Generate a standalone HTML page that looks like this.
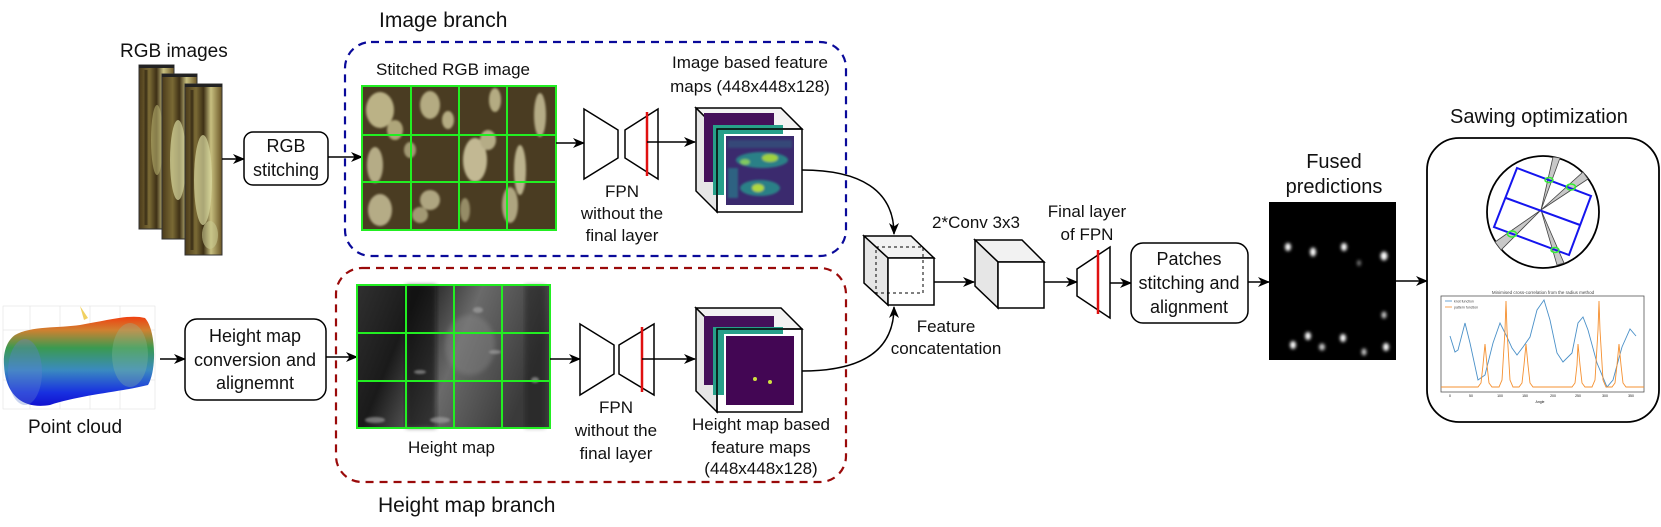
<!DOCTYPE html>
<html><head><meta charset="utf-8"><style>
html,body{margin:0;padding:0;background:#fff;}
svg{display:block;}
text{font-family:"Liberation Sans",Arial,sans-serif;fill:#111;}
</style></head><body>
<svg width="1661" height="527" viewBox="0 0 1661 527" xmlns="http://www.w3.org/2000/svg">
<defs>
<marker id="ar" markerWidth="12" markerHeight="12" refX="11" refY="6" orient="auto" markerUnits="userSpaceOnUse">
<path d="M0,1 L12,6 L0,11 L3.5,6 z" fill="#000"/>
</marker>
<linearGradient id="pc" x1="0" y1="0" x2="0" y2="1">
<stop offset="0" stop-color="#f04010"/><stop offset="0.15" stop-color="#d08030"/>
<stop offset="0.35" stop-color="#3a9a50"/><stop offset="0.6" stop-color="#3a8ac0"/>
<stop offset="0.85" stop-color="#1830e0"/><stop offset="1" stop-color="#1010d0"/>
</linearGradient>
<linearGradient id="strip" x1="0" y1="0" x2="1" y2="0">
<stop offset="0" stop-color="#4a3a1a"/><stop offset="0.3" stop-color="#7a6a35"/>
<stop offset="0.5" stop-color="#3e3015"/><stop offset="0.7" stop-color="#c8c080"/>
<stop offset="1" stop-color="#6a5525"/>
</linearGradient>
<linearGradient id="hm" x1="0" y1="0" x2="1" y2="0.3">
<stop offset="0" stop-color="#303030"/><stop offset="0.3" stop-color="#1a1a1a"/>
<stop offset="0.6" stop-color="#6a6a6a"/><stop offset="1" stop-color="#3a3a3a"/>
</linearGradient>
<filter id="bl" x="-50%" y="-50%" width="200%" height="200%"><feGaussianBlur stdDeviation="1.6"/></filter>
<filter id="bl2"><feGaussianBlur stdDeviation="2.5"/></filter>
<filter id="bl3" x="-50%" y="-50%" width="200%" height="200%"><feGaussianBlur stdDeviation="1"/></filter>
</defs>

<text x="379" y="27" font-size="21">Image branch</text>
<text x="378" y="512" font-size="21">Height map branch</text>
<text x="120" y="57" font-size="19">RGB images</text>
<text x="1450" y="123" font-size="20">Sawing optimization</text>

<rect x="345" y="42" width="501" height="214" rx="26" fill="none" stroke="#0a0a9a" stroke-width="2.2" stroke-dasharray="8,6"/>
<rect x="336" y="268" width="510" height="214" rx="26" fill="none" stroke="#9a0a0a" stroke-width="2.2" stroke-dasharray="8,6"/>

<g>
<rect x="139" y="65" width="35" height="164" fill="url(#strip)" stroke="#333" stroke-width="1"/>
<rect x="139" y="65" width="35" height="3" fill="#222"/>
<ellipse cx="157" cy="140" rx="6" ry="35" fill="#b8b070" opacity="0.6"/>
<rect x="162" y="74" width="35" height="165" fill="url(#strip)" stroke="#333" stroke-width="1"/>
<rect x="162" y="74" width="35" height="3" fill="#222"/>
<ellipse cx="178" cy="160" rx="8" ry="40" fill="#d8d8a0" opacity="0.7"/>
<rect x="185" y="84" width="37" height="171" fill="url(#strip)" stroke="#333" stroke-width="1"/>
<rect x="185" y="84" width="37" height="3" fill="#222"/>
<ellipse cx="203" cy="180" rx="9" ry="45" fill="#d8d8a0" opacity="0.7"/>
<ellipse cx="210" cy="235" rx="8" ry="14" fill="#c8c890" opacity="0.6"/>
<line x1="192" y1="90" x2="192" y2="250" stroke="#2a2010" stroke-width="3" opacity="0.6"/>
<line x1="146" y1="70" x2="146" y2="225" stroke="#2a2010" stroke-width="3" opacity="0.6"/>
</g>

<line x1="222" y1="159" x2="244" y2="159" stroke="#000" stroke-width="1.5" marker-end="url(#ar)"/>
<rect x="244" y="132" width="84" height="53" rx="9" fill="#fff" stroke="#000" stroke-width="1.5"/>
<text x="286" y="152" font-size="18" text-anchor="middle">RGB</text>
<text x="286" y="176" font-size="18" text-anchor="middle">stitching</text>
<line x1="328" y1="157" x2="362" y2="157" stroke="#000" stroke-width="1.5" marker-end="url(#ar)"/>

<text x="376" y="75" font-size="17">Stitched RGB image</text>
<rect x="362" y="86" width="194" height="144" fill="#4a3c22"/>
<g opacity="0.8" filter="url(#bl3)">
<ellipse cx="380" cy="110" rx="14" ry="18" fill="#d8d0a0"/>
<ellipse cx="395" cy="130" rx="8" ry="10" fill="#c8c090"/>
<ellipse cx="430" cy="105" rx="10" ry="14" fill="#cfc79a"/>
<ellipse cx="448" cy="120" rx="6" ry="9" fill="#cfc79a"/>
<ellipse cx="495" cy="100" rx="6" ry="12" fill="#cfc79a"/>
<ellipse cx="540" cy="115" rx="6" ry="22" fill="#d0c8a0"/>
<ellipse cx="375" cy="165" rx="8" ry="18" fill="#d0c8a0"/>
<ellipse cx="475" cy="160" rx="12" ry="22" fill="#e0d8b0"/>
<ellipse cx="488" cy="140" rx="8" ry="10" fill="#d0c8a0"/>
<ellipse cx="520" cy="170" rx="6" ry="25" fill="#d8d0a8"/>
<ellipse cx="380" cy="210" rx="12" ry="16" fill="#d0c8a0"/>
<ellipse cx="430" cy="200" rx="10" ry="10" fill="#c8c098"/>
<ellipse cx="420" cy="215" rx="8" ry="8" fill="#b8b088"/>
<ellipse cx="510" cy="205" rx="8" ry="18" fill="#c8c098"/>
<ellipse cx="410" cy="150" rx="6" ry="8" fill="#b8b088"/>
<ellipse cx="465" cy="210" rx="5" ry="12" fill="#a8a078"/>
</g>
<g stroke="#22ee22" stroke-width="2" fill="none">
<rect x="362" y="86" width="194" height="144"/>
<line x1="411" y1="86" x2="411" y2="230"/><line x1="459" y1="86" x2="459" y2="230"/><line x1="507" y1="86" x2="507" y2="230"/>
<line x1="362" y1="135" x2="556" y2="135"/><line x1="362" y1="182" x2="556" y2="182"/>
</g>

<line x1="556" y1="143" x2="584" y2="143" stroke="#000" stroke-width="1.5" marker-end="url(#ar)"/>
<polygon points="584,109 618,130 618,158 584,179" fill="#fff" stroke="#000" stroke-width="1.5"/>
<polygon points="625,130 658,109 658,179 625,158" fill="#fff" stroke="#000" stroke-width="1.5"/>
<line x1="647" y1="112" x2="647" y2="176" stroke="#e01010" stroke-width="2.5"/>
<line x1="647" y1="142" x2="695" y2="142" stroke="#000" stroke-width="1.5" marker-end="url(#ar)"/>
<text font-size="17" text-anchor="middle"><tspan x="622" y="197">FPN</tspan><tspan x="622" y="219">without the</tspan><tspan x="622" y="241">final layer</tspan></text>
<text font-size="17" text-anchor="middle"><tspan x="750" y="68">Image based feature</tspan><tspan x="750" y="92">maps (448x448x128)</tspan></text>

<polygon points="696,108 781,108 802,129 717,129" fill="#f2f2f2" stroke="#000" stroke-width="1.5"/>
<polygon points="696,108 717,129 717,212 696,191" fill="#e6e6e6" stroke="#000" stroke-width="1.5"/>
<rect x="704" y="113" width="70" height="69" fill="#44105a"/>
<rect x="713" y="125" width="70" height="70" fill="#27a08a"/>
<rect x="724" y="134" width="72" height="73" fill="#fff"/>
<rect x="726" y="136" width="68" height="69" fill="#3b2a6e"/>
<g filter="url(#bl3)">
<rect x="728" y="140" width="64" height="8" fill="#35507a" opacity="0.8"/>
<ellipse cx="762" cy="160" rx="26" ry="8" fill="#2a8a8a" opacity="0.9"/>
<ellipse cx="770" cy="158" rx="8" ry="4" fill="#a0d040"/>
<ellipse cx="745" cy="162" rx="5" ry="3" fill="#80c860"/>
<ellipse cx="760" cy="188" rx="20" ry="8" fill="#2a8a8a" opacity="0.9"/>
<ellipse cx="758" cy="188" rx="6" ry="4" fill="#b0d840"/>
<rect x="728" y="168" width="10" height="30" fill="#2a7a8a" opacity="0.7"/>
</g>
<rect x="717" y="129" width="85" height="83" fill="none" stroke="#000" stroke-width="1.5"/>

<polygon points="696,308 781,308 802,329 717,329" fill="#f2f2f2" stroke="#000" stroke-width="1.5"/>
<polygon points="696,308 717,329 717,412 696,391" fill="#e6e6e6" stroke="#000" stroke-width="1.5"/>
<rect x="704" y="316" width="70" height="69" fill="#44105a"/>
<rect x="713" y="327" width="70" height="68" fill="#27a08a"/>
<rect x="724" y="334" width="72" height="73" fill="#fff"/>
<rect x="726" y="336" width="68" height="69" fill="#430654"/>
<circle cx="755" cy="379" r="2" fill="#d0e040"/><circle cx="770" cy="382" r="2" fill="#d0e040"/>
<rect x="717" y="329" width="85" height="83" fill="none" stroke="#000" stroke-width="1.5"/>

<path d="M802,170 C860,170 894,190 894,234" fill="none" stroke="#000" stroke-width="1.5" marker-end="url(#ar)"/>
<path d="M802,371 C870,371 894,345 894,307" fill="none" stroke="#000" stroke-width="1.5" marker-end="url(#ar)"/>

<polygon points="864,236 911,236 934,258 888,258" fill="#f2f2f2" stroke="#000" stroke-width="1.5"/>
<polygon points="864,236 888,258 888,305 864,283" fill="#e6e6e6" stroke="#000" stroke-width="1.5"/>
<rect x="888" y="258" width="46" height="47" fill="#fff" stroke="#000" stroke-width="1.5"/>
<rect x="876" y="247" width="47" height="46" fill="none" stroke="#000" stroke-width="1" stroke-dasharray="3,3"/>
<text font-size="17" text-anchor="middle"><tspan x="946" y="332">Feature</tspan><tspan x="946" y="354">concatentation</tspan></text>
<line x1="934" y1="282" x2="974" y2="282" stroke="#000" stroke-width="1.5" marker-end="url(#ar)"/>

<text x="976" y="228" font-size="17" text-anchor="middle">2*Conv 3x3</text>
<polygon points="975,240 1022,240 1044,262 998,262" fill="#f2f2f2" stroke="#000" stroke-width="1.5"/>
<polygon points="975,240 998,262 998,308 975,286" fill="#e6e6e6" stroke="#000" stroke-width="1.5"/>
<rect x="998" y="262" width="46" height="46" fill="#fff" stroke="#000" stroke-width="1.5"/>
<line x1="1044" y1="282" x2="1077" y2="282" stroke="#000" stroke-width="1.5" marker-end="url(#ar)"/>

<text font-size="17" text-anchor="middle"><tspan x="1087" y="217">Final layer</tspan><tspan x="1087" y="240">of FPN</tspan></text>
<polygon points="1077,269 1110,247 1110,318 1077,296" fill="#fff" stroke="#000" stroke-width="1.5"/>
<line x1="1098" y1="250" x2="1098" y2="314" stroke="#e01010" stroke-width="2.5"/>
<line x1="1110" y1="283" x2="1131" y2="283" stroke="#000" stroke-width="1.5" marker-end="url(#ar)"/>

<rect x="1131" y="243" width="117" height="80" rx="12" fill="#fff" stroke="#000" stroke-width="1.5"/>
<text font-size="18" text-anchor="middle"><tspan x="1189" y="265">Patches</tspan><tspan x="1189" y="289">stitching and</tspan><tspan x="1189" y="313">alignment</tspan></text>
<line x1="1248" y1="282" x2="1269" y2="282" stroke="#000" stroke-width="1.5" marker-end="url(#ar)"/>

<text font-size="20" text-anchor="middle"><tspan x="1334" y="168">Fused</tspan><tspan x="1334" y="193">predictions</tspan></text>
<rect x="1269" y="202" width="127" height="158" fill="#000"/>
<g fill="#fff" filter="url(#bl)">
<ellipse cx="1288" cy="247" rx="3" ry="4"/><ellipse cx="1313" cy="252" rx="3" ry="4.5"/>
<ellipse cx="1344" cy="247" rx="3" ry="4"/><ellipse cx="1384" cy="256" rx="3.5" ry="4.5"/>
<ellipse cx="1359" cy="263" rx="2" ry="3" opacity="0.5"/><ellipse cx="1384" cy="315" rx="2.5" ry="3.5" opacity="0.8"/>
<ellipse cx="1308" cy="336" rx="3" ry="4"/><ellipse cx="1293" cy="345" rx="3" ry="4"/>
<ellipse cx="1322" cy="347" rx="3" ry="3.5" opacity="0.8"/><ellipse cx="1343" cy="338" rx="3" ry="4"/>
<ellipse cx="1364" cy="352" rx="2.5" ry="3.5" opacity="0.8"/><ellipse cx="1386" cy="347" rx="3" ry="4"/>
</g>
<line x1="1396" y1="281" x2="1427" y2="281" stroke="#000" stroke-width="1.5" marker-end="url(#ar)"/>

<rect x="1427" y="138" width="232" height="284" rx="32" fill="#fff" stroke="#000" stroke-width="1.8"/>
<circle cx="1543" cy="212" r="56" fill="#fff" stroke="#000" stroke-width="1.8"/>
<g fill="#c8c8c8" stroke="#444" stroke-width="0.8">
<polygon points="1541,210 1553,157 1560,158"/>
<polygon points="1541,210 1583,172 1588,179"/>
<polygon points="1541,210 1495,242 1501,250"/>
<polygon points="1541,210 1557,265 1564,263"/>
</g>
<g stroke="#1515ee" stroke-width="2" fill="none">
<polygon points="1517,168 1591,196 1569,255 1494,227"/>
<line x1="1506" y1="198" x2="1580" y2="225"/>
</g>
<g fill="none" stroke="#33ee33" stroke-width="1.5">
<ellipse cx="1549" cy="180" rx="4" ry="2.5"/><ellipse cx="1571" cy="187" rx="4.5" ry="3"/>
<ellipse cx="1512" cy="234" rx="4.5" ry="3"/><ellipse cx="1555" cy="250" rx="4" ry="2.5"/>
</g>

<text x="1543" y="294" font-size="4.5" text-anchor="middle" style="fill:#444">Minimised cross-correlation from the radius method</text>
<rect x="1441" y="296" width="203" height="96" fill="#fff" stroke="#555" stroke-width="0.8"/>
<line x1="1445" y1="301" x2="1452" y2="301" stroke="#4a90c8" stroke-width="0.8"/>
<line x1="1445" y1="307" x2="1452" y2="307" stroke="#f59030" stroke-width="0.8"/>
<text x="1454" y="302.5" font-size="3.5" style="fill:#444">knot function</text>
<text x="1454" y="308.5" font-size="3.5" style="fill:#444">pattern function</text>
<polyline fill="none" stroke="#4a90c8" stroke-width="0.9" points="1450,336 1455,352 1458,350 1465,323 1470,343 1478,380 1485,375 1493,343 1500,323 1507,337 1512,348 1517,355 1523,347 1530,337 1537,310 1544,300 1550,320 1557,353 1563,362 1572,353 1578,323 1583,317 1588,330 1597,363 1607,387 1613,380 1622,347 1630,329 1636,336"/>
<polyline fill="none" stroke="#f59030" stroke-width="0.9" points="1441,387 1478,387 1481,383 1483,365 1485,344 1487,365 1489,383 1492,387 1499,387 1502,380 1505,330 1506,301 1507,330 1510,380 1513,387 1519,387 1522,383 1524,365 1526,344 1528,365 1530,383 1533,387 1572,387 1575,383 1577,365 1578,344 1580,365 1582,383 1585,387 1592,387 1595,380 1598,330 1599,301 1600,330 1603,380 1606,387 1612,387 1615,383 1617,365 1619,344 1621,365 1623,383 1626,387 1644,387"/>
<g font-size="3.5" style="fill:#444" text-anchor="middle">
<text x="1450" y="397">0</text><text x="1471" y="397">50</text><text x="1500" y="397">100</text><text x="1525" y="397">150</text><text x="1553" y="397">200</text><text x="1578" y="397">250</text><text x="1605" y="397">300</text><text x="1631" y="397">350</text>
<text x="1540" y="403">Angle</text>
</g>

<g stroke="#ddd" stroke-width="0.5" fill="none">
<rect x="3" y="306" width="152" height="103"/>
<line x1="30" y1="306" x2="30" y2="409"/><line x1="60" y1="306" x2="60" y2="409"/><line x1="90" y1="306" x2="90" y2="409"/><line x1="120" y1="306" x2="120" y2="409"/>
<line x1="3" y1="330" x2="155" y2="330"/><line x1="3" y1="380" x2="155" y2="380"/>
</g>
<path d="M80,306 L88,318 L84,320 Z" fill="#f0d060"/>
<path d="M15,335 C30,326 60,328 80,325 C110,320 130,314 145,318 C156,330 157,370 148,385 C120,392 80,395 50,405 C20,410 5,392 4,365 C3,350 8,340 15,335 Z" fill="url(#pc)"/>
<ellipse cx="25" cy="372" rx="17" ry="33" fill="#6080d0" opacity="0.35"/>
<ellipse cx="130" cy="355" rx="18" ry="32" fill="#90c0a0" opacity="0.3"/>
<text x="28" y="433" font-size="19">Point cloud</text>

<line x1="160" y1="359" x2="185" y2="359" stroke="#000" stroke-width="1.5" marker-end="url(#ar)"/>
<rect x="185" y="319" width="141" height="81" rx="12" fill="#fff" stroke="#000" stroke-width="1.5"/>
<text font-size="18" text-anchor="middle"><tspan x="255" y="342">Height map</tspan><tspan x="255" y="366">conversion and</tspan><tspan x="255" y="389">alignemnt</tspan></text>
<line x1="326" y1="357" x2="357" y2="357" stroke="#000" stroke-width="1.5" marker-end="url(#ar)"/>

<rect x="357" y="285" width="193" height="143" fill="url(#hm)"/>
<rect x="406" y="285" width="30" height="143" fill="#0c0c0c" opacity="0.6" filter="url(#bl2)"/>
<ellipse cx="470" cy="345" rx="25" ry="30" fill="#8a8a8a" opacity="0.4" filter="url(#bl2)"/>
<rect x="525" y="285" width="20" height="143" fill="#151515" opacity="0.4" filter="url(#bl2)"/>
<g fill="#aaa" opacity="0.6" filter="url(#bl3)">
<ellipse cx="478" cy="310" rx="5" ry="3"/><ellipse cx="535" cy="380" rx="4" ry="3"/>
<ellipse cx="420" cy="372" rx="6" ry="2"/><ellipse cx="495" cy="352" rx="6" ry="2"/>
<ellipse cx="375" cy="420" rx="10" ry="3"/><ellipse cx="440" cy="420" rx="10" ry="3"/>
</g>
<g stroke="#22ee22" stroke-width="2" fill="none">
<rect x="357" y="285" width="193" height="143"/>
<line x1="406" y1="285" x2="406" y2="428"/><line x1="454" y1="285" x2="454" y2="428"/><line x1="502" y1="285" x2="502" y2="428"/>
<line x1="357" y1="333" x2="550" y2="333"/><line x1="357" y1="381" x2="550" y2="381"/>
</g>
<text x="408" y="453" font-size="17">Height map</text>

<line x1="550" y1="359" x2="580" y2="359" stroke="#000" stroke-width="1.5" marker-end="url(#ar)"/>
<polygon points="580,324 614,345 614,374 580,395" fill="#fff" stroke="#000" stroke-width="1.5"/>
<polygon points="619,345 654,324 654,395 619,374" fill="#fff" stroke="#000" stroke-width="1.5"/>
<line x1="642" y1="327" x2="642" y2="392" stroke="#e01010" stroke-width="2.5"/>
<line x1="642" y1="359" x2="695" y2="359" stroke="#000" stroke-width="1.5" marker-end="url(#ar)"/>
<text font-size="17" text-anchor="middle"><tspan x="616" y="413">FPN</tspan><tspan x="616" y="436">without the</tspan><tspan x="616" y="459">final layer</tspan></text>
<text font-size="17" text-anchor="middle"><tspan x="761" y="430">Height map based</tspan><tspan x="761" y="453">feature maps</tspan><tspan x="761" y="474">(448x448x128)</tspan></text>
</svg>
</body></html>
